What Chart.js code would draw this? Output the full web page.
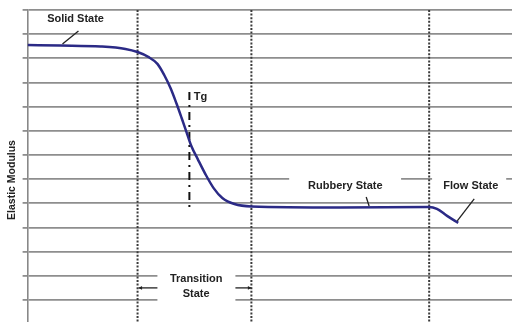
<!DOCTYPE html>
<html>
<head>
<meta charset="utf-8">
<script src="https://cdn.jsdelivr.net/npm/chart.js@4.4.0/dist/chart.umd.min.js"></script>
<style>
    html, body { margin: 0; padding: 0; background: #fff; overflow: hidden; }
    #caixa { width: 512px; height: 350px; }
</style>
</head>
<body>
<div id="caixa"><canvas id="chartModulo"></canvas></div>
<script>
// curva do modulo elastico (x = temperatura, y = log do modulo, unidades arbitrarias)
var temperatura = [0, 6.8, 15.1, 20.2, 22.7, 24.9, 26.8, 28.2, 29.5, 30.7, 31.8, 32.8, 33.8, 35.1, 36.7, 38.4, 40.2, 42.7, 46.2, 64.5, 82.9, 84.5, 86.6, 88.9];
var modulo = [10.55, 10.53, 10.49, 10.39, 10.26, 10.06, 9.77, 9.31, 8.77, 8.15, 7.53, 6.95, 6.37, 5.84, 5.21, 4.63, 4.22, 3.97, 3.87, 3.83, 3.85, 3.77, 3.48, 3.19];

// limites entre os estados (linhas pontilhadas)
var limitesEstados = [22.7, 46.2, 82.9];

// Tg
var tgX = 33.4;
var tgY = [8.61, 3.68];

// linhas de grade do eixo y
var ticksY = [-2, -1, 0, 1, 2, 3, 4, 5, 6, 7, 8, 9, 10, 11, 12];

var yMin = -2.07;
var yMax = 12;

var dadosCurva = [];
for (var i = 0; i < temperatura.length; i++) {
    dadosCurva.push({ x: temperatura[i], y: modulo[i] });
}

var dadosLimites = [];
for (var i = 0; i < limitesEstados.length; i++) {
    dadosLimites.push({ x: limitesEstados[i], y: yMax });
    dadosLimites.push({ x: limitesEstados[i], y: yMin });
    dadosLimites.push({ x: limitesEstados[i], y: null });
}

// textos, setas e caixas brancas (em coordenadas dos eixos)
var textos = [
    { t: 'Solid State', x: 9.9, y: 11.63, align: 'center' },
    { t: 'Tg', x: 34.3, y: 8.4, align: 'left' },
    { t: 'Rubbery State', x: 65.6, y: 4.72, align: 'center' },
    { t: 'Flow State', x: 91.5, y: 4.72, align: 'center' },
    { t: 'Transition', x: 34.8, y: 0.87, align: 'center' },
    { t: 'State', x: 34.8, y: 0.25, align: 'center' }
];

var setas = [
    { de: [10.5, 11.13], para: [7.2, 10.59], cabeca: 0 },
    { de: [69.9, 4.26], para: [70.5, 3.89], cabeca: 0 },
    { de: [92.2, 4.18], para: [88.7, 3.27], cabeca: 0 },
    { de: [26.8, 0.5], para: [22.9, 0.5], cabeca: 4 },
    { de: [42.9, 0.5], para: [46.2, 0.5], cabeca: 4 }
];

var caixas = [
    { x1: 54.0, x2: 77.1, y1: 5.3, y2: 4.3 },
    { x1: 83.5, x2: 98.8, y1: 5.3, y2: 4.3 },
    { x1: 26.8, x2: 42.9, y1: 1.33, y2: -0.25 }
];

const caixasBrancas = {
    id: 'caixasBrancas',
    beforeDatasetsDraw(chart) {
        const { ctx, scales: { x, y } } = chart;
        ctx.save();
        ctx.fillStyle = '#ffffff';
        caixas.forEach(function (c) {
            var px1 = x.getPixelForValue(c.x1);
            var px2 = x.getPixelForValue(c.x2);
            var py1 = y.getPixelForValue(c.y1);
            var py2 = y.getPixelForValue(c.y2);
            ctx.fillRect(px1, py1, px2 - px1, py2 - py1);
        });
        ctx.restore();
    }
};

const anotacoes = {
    id: 'anotacoes',
    afterDatasetsDraw(chart) {
        const { ctx, scales: { x, y } } = chart;
        ctx.save();
        ctx.fillStyle = '#222';
        ctx.font = 'bold 11px "Liberation Sans", Arial, sans-serif';
        ctx.textBaseline = 'middle';
        textos.forEach(function (t) {
            ctx.textAlign = t.align;
            ctx.fillText(t.t, x.getPixelForValue(t.x), y.getPixelForValue(t.y));
        });

        ctx.strokeStyle = '#222';
        ctx.fillStyle = '#222';
        ctx.lineWidth = 1.3;
        setas.forEach(function (s) {
            var x1 = x.getPixelForValue(s.de[0]);
            var y1 = y.getPixelForValue(s.de[1]);
            var x2 = x.getPixelForValue(s.para[0]);
            var y2 = y.getPixelForValue(s.para[1]);
            var ang = Math.atan2(y2 - y1, x2 - x1);
            ctx.beginPath();
            ctx.moveTo(x1, y1);
            ctx.lineTo(x2, y2);
            ctx.stroke();
            if (s.cabeca > 0) {
                ctx.beginPath();
                ctx.moveTo(x2, y2);
                ctx.lineTo(x2 - s.cabeca * Math.cos(ang - 0.5), y2 - s.cabeca * Math.sin(ang - 0.5));
                ctx.lineTo(x2 - s.cabeca * Math.cos(ang + 0.5), y2 - s.cabeca * Math.sin(ang + 0.5));
                ctx.closePath();
                ctx.fill();
            }
        });
        ctx.restore();
    }
};

var config = {
    type: 'line',
    data: {
        datasets: [
            {
                label: 'Elastic Modulus',
                data: dadosCurva,
                borderColor: '#2b2a86',
                borderWidth: 2.5,
                pointRadius: 0,
                cubicInterpolationMode: 'monotone',
                fill: false
            },
            {
                label: 'Tg',
                data: [{ x: tgX, y: tgY[0] }, { x: tgX, y: tgY[1] }],
                borderColor: '#111',
                borderWidth: 2,
                borderDash: [8, 5, 2, 5],
                pointRadius: 0
            },
            {
                label: 'Limites',
                data: dadosLimites,
                borderColor: '#3a3a3a',
                borderWidth: 2,
                borderDash: [2, 1.6],
                pointRadius: 0,
                spanGaps: false
            }
        ]
    },
    options: {
        responsive: true,
        maintainAspectRatio: false,
        animation: false,
        events: [],
        layout: { padding: { top: 10, left: 2, right: 0, bottom: 0 } },
        plugins: {
            legend: { display: false },
            tooltip: { enabled: false }
        },
        scales: {
            x: {
                type: 'linear',
                min: 0,
                max: 100,
                display: false
            },
            y: {
                type: 'linear',
                min: yMin,
                max: yMax,
                afterBuildTicks: function (scale) {
                    scale.ticks = ticksY.map(function (v) { return { value: v }; });
                },
                ticks: { display: false },
                grid: {
                    color: '#8e8e8e',
                    lineWidth: 1.8,
                    drawTicks: true,
                    tickLength: 5
                },
                border: { color: '#888', width: 1.6 },
                title: {
                    display: true,
                    text: 'Elastic Modulus',
                    color: '#222',
                    font: { family: '"Liberation Sans", Arial, sans-serif', size: 10.5, weight: 'bold' },
                    padding: { top: 4, bottom: 4 }
                }
            }
        }
    },
    plugins: [caixasBrancas, anotacoes]
};

var graficoModulo = new Chart(document.getElementById('chartModulo'), config);
</script>
</body>
</html>
